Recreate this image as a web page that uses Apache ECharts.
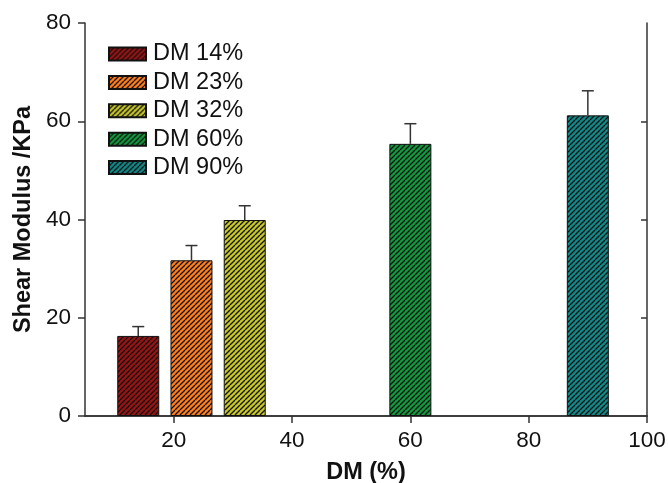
<!DOCTYPE html>
<html>
<head>
<meta charset="utf-8">
<title>Shear Modulus vs DM</title>
<script src="https://cdn.jsdelivr.net/npm/echarts@6/dist/echarts.min.js"></script>
<style>
  html, body { margin: 0; padding: 0; background: #fff; }
  #chart { width: 668px; height: 483px; }
</style>
</head>
<body>
<div id="chart"></div>
<script>
// data
const seriesNames = ['DM 14%', 'DM 23%', 'DM 32%', 'DM 60%', 'DM 90%'];
const dmValues = [14, 23, 32, 60, 90];
const modulusValues = [16.3, 31.7, 39.9, 55.4, 61.2];
const errorValues = [1.9, 3.0, 2.9, 4.1, 5.0];
const xTickValues = [20, 40, 60, 80, 100];
const barColors = ['#9a1414', '#ff7f1e', '#c8c828', '#129a3e', '#128a8a'];

const font = '"Liberation Sans", Arial, sans-serif';

// hatched fill: base colour with black "/" lines
function hatch(color) {
  const s = 5;
  const c = document.createElement('canvas');
  c.width = s;
  c.height = s;
  const ctx = c.getContext('2d');
  ctx.fillStyle = color;
  ctx.fillRect(0, 0, s, s);
  ctx.strokeStyle = '#111';
  ctx.lineWidth = 1.3;
  ctx.beginPath();
  for (let k = -1; k <= 1; k++) {
    ctx.moveTo(k * s, s);
    ctx.lineTo(k * s + s, 0);
  }
  ctx.stroke();
  return { image: c, repeat: 'repeat' };
}

const chart = echarts.init(document.getElementById('chart'), null, { renderer: 'canvas' });

const barSeries = seriesNames.map((name, i) => ({
  name,
  type: 'bar',
  xAxisIndex: 0,
  yAxisIndex: 0,
  barWidth: 42,
  barGap: '-100%',
  itemStyle: {
    color: hatch(barColors[i]),
    borderColor: '#111',
    borderWidth: 1
  },
  emphasis: { disabled: true },
  data: [[dmValues[i], modulusValues[i]]]
}));

const errorSeries = {
  type: 'custom',
  xAxisIndex: 0,
  yAxisIndex: 0,
  silent: true,
  z: 5,
  data: dmValues.map((x, i) => [x, modulusValues[i], errorValues[i]]),
  renderItem(params, api) {
    const x = api.value(0);
    const y = api.value(1);
    const e = api.value(2);
    const p0 = api.coord([x, y]);
    const p1 = api.coord([x, y + e]);
    const style = { stroke: '#333', lineWidth: 1.5 };
    return {
      type: 'group',
      children: [
        { type: 'line', shape: { x1: p0[0], y1: p0[1], x2: p1[0], y2: p1[1] }, style },
        { type: 'line', shape: { x1: p1[0] - 6, y1: p1[1], x2: p1[0] + 6, y2: p1[1] }, style }
      ]
    };
  }
};

const axisLine = { show: true, lineStyle: { color: '#333', width: 1.5 } };

chart.setOption({
  animation: false,
  grid: { left: 85, right: 21, top: 23, bottom: 67, outerBoundsMode: 'none' },
  legend: {
    data: seriesNames.map(name => ({ name, icon: 'rect' })),
    orient: 'vertical',
    left: 108,
    top: 42,
    padding: 0,
    itemWidth: 37,
    itemHeight: 13,
    itemGap: 4.4,
    selectedMode: false,
    textStyle: { fontFamily: font, fontSize: 23.5, lineHeight: 24, color: '#111', padding: [0, 0, 0, 2] }
  },
  xAxis: [
    {
      type: 'value',
      position: 'bottom',
      min: 5,
      max: 100,
      axisLine,
      axisTick: { show: true, inside: false, length: 7, customValues: xTickValues, lineStyle: { color: '#333', width: 1.5 } },
      axisLabel: { customValues: xTickValues, fontFamily: font, fontSize: 22.5, color: '#111', margin: 13 },
      splitLine: { show: false },
      name: 'DM (%)',
      nameLocation: 'middle',
      nameGap: 45,
      nameTextStyle: { fontFamily: font, fontSize: 23.5, fontWeight: 'bold', color: '#111' }
    },
    {
      type: 'value',
      position: 'top',
      min: 5,
      max: 100,
      axisLine,
      axisTick: { show: true, inside: true, length: 6, customValues: [20, 40, 60, 80], lineStyle: { color: '#333', width: 1.5 } },
      axisLabel: { show: false },
      splitLine: { show: false }
    }
  ],
  yAxis: [
    {
      type: 'value',
      position: 'left',
      min: 0,
      max: 80,
      interval: 20,
      axisLine,
      axisTick: { show: true, inside: false, length: 7, lineStyle: { color: '#333', width: 1.5 } },
      axisLabel: { fontFamily: font, fontSize: 22.5, color: '#111', margin: 14 },
      splitLine: { show: false },
      name: 'Shear Modulus /KPa',
      nameLocation: 'middle',
      nameGap: 49,
      nameTextStyle: { fontFamily: font, fontSize: 23.5, fontWeight: 'bold', color: '#111' }
    },
    {
      type: 'value',
      position: 'right',
      min: 0,
      max: 80,
      interval: 20,
      axisLine,
      axisTick: { show: true, inside: true, length: 6, customValues: [20, 40, 60], lineStyle: { color: '#333', width: 1.5 } },
      axisLabel: { show: false },
      splitLine: { show: false }
    }
  ],
  series: [...barSeries, errorSeries]
});
</script>
</body>
</html>
